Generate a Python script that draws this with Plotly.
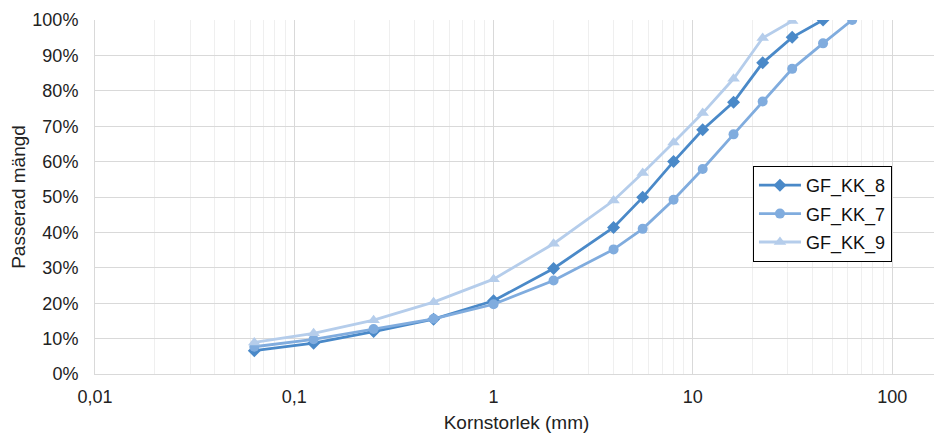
import plotly.graph_objects as go

sizes_8 = [0.063, 0.125, 0.25, 0.5, 1, 2, 4, 5.6, 8, 11.2, 16, 22.4, 31.5, 45]
gf_kk_8 = [0.066, 0.087, 0.12, 0.155, 0.207, 0.298, 0.414, 0.499, 0.60, 0.69, 0.768, 0.879, 0.951, 1.0]

sizes_7 = [0.063, 0.125, 0.25, 0.5, 1, 2, 4, 5.6, 8, 11.2, 16, 22.4, 31.5, 45, 63]
gf_kk_7 = [0.077, 0.098, 0.127, 0.156, 0.197, 0.264, 0.352, 0.41, 0.492, 0.579, 0.677, 0.77, 0.862, 0.934, 1.0]

sizes_9 = [0.063, 0.125, 0.25, 0.5, 1, 2, 4, 5.6, 8, 11.2, 16, 22.4, 31.5]
gf_kk_9 = [0.089, 0.115, 0.152, 0.203, 0.268, 0.368, 0.49, 0.568, 0.654, 0.737, 0.834, 0.949, 0.997]

x_tickvals = [0.01, 0.1, 1, 10, 100]
x_ticktext = ["0,01", "0,1", "1", "10", "100"]
y_tickvals = [i / 10 for i in range(11)]
y_ticktext = [f"{i * 10}%" for i in range(11)]

font = "Liberation Sans, Arial, sans-serif"

fig = go.Figure()
fig.add_trace(go.Scatter(x=sizes_8, y=gf_kk_8, name="GF_KK_8", mode="lines+markers", legendgroup="a",
                         line=dict(color="#4A89C8", width=2.8),
                         marker=dict(symbol="diamond", size=10, color="#4A89C8")))
fig.add_trace(go.Scatter(x=sizes_7, y=gf_kk_7, name="GF_KK_7", mode="lines+markers", legendgroup="b",
                         line=dict(color="#80ACDE", width=2.8),
                         marker=dict(symbol="circle", size=10, color="#80ACDE")))
fig.add_trace(go.Scatter(x=sizes_9, y=gf_kk_9, name="GF_KK_9", mode="lines+markers", legendgroup="c",
                         line=dict(color="#B5CDEB", width=2.8),
                         marker=dict(symbol="triangle-up", size=11, color="#B5CDEB")))

fig.update_layout(
    width=934, height=425,
    margin=dict(l=87, r=4, t=12, b=59),
    paper_bgcolor="white", plot_bgcolor="white",
    font=dict(family=font, size=18, color="#222"),
    legend=dict(x=0.7805, y=0.5876, xanchor="left", yanchor="top",
                bordercolor="black", borderwidth=1, bgcolor="white",
                font=dict(size=18, color="#111"), tracegroupgap=2,
                itemwidth=42),
    xaxis=dict(type="log", range=[-2, 2.23], tickvals=x_tickvals, ticktext=x_ticktext,
               showgrid=True, gridcolor="#D9D9D9", gridwidth=1, automargin=False,
               minor=dict(dtick="D1", showgrid=True, gridcolor="#EFEFEF", gridwidth=1, ticks=""),
               showline=True, linecolor="#D9D9D9", zeroline=False, ticks="", ticklabelstandoff=6,
               tickfont=dict(size=18, color="#222"),
               title=dict(text="Kornstorlek (mm)", font=dict(size=19, color="#222"), standoff=14)),
    yaxis=dict(range=[0, 1], tickvals=y_tickvals, ticktext=y_ticktext,
               showgrid=True, gridcolor="#D9D9D9", gridwidth=1, automargin=False,
               showline=True, linecolor="#D9D9D9", zeroline=False, ticks="", ticklabelstandoff=12,
               tickfont=dict(size=18, color="#222"),
               title=dict(text="Passerad mängd", font=dict(size=19, color="#222"), standoff=6)),
)

fig.write_html("out.html")
